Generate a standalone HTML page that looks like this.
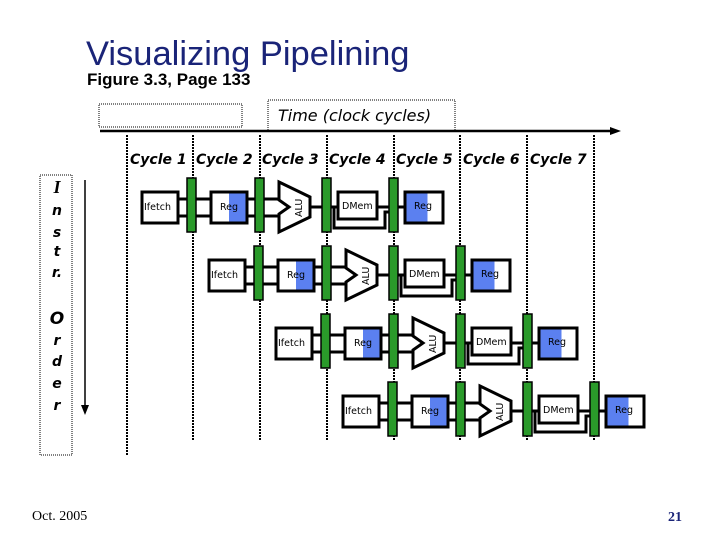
<!DOCTYPE html>
<html><head><meta charset="utf-8"><style>
body{margin:0;width:720px;height:540px;background:#fff;overflow:hidden}
svg{display:block}
.c{font-family:"DejaVu Sans",sans-serif;font-weight:bold;font-style:italic;font-size:14px}
.s{font-family:"DejaVu Sans",sans-serif;font-size:9.5px}
</style></head><body>
<svg width="720" height="540" xmlns="http://www.w3.org/2000/svg">
<text x="86" y="65" font-family="Liberation Sans,sans-serif" font-size="34.5" fill="#1a2478">Visualizing Pipelining</text>
<text x="87" y="85" font-family="Liberation Sans,sans-serif" font-weight="bold" font-size="17" fill="#000">Figure 3.3, Page 133</text>
<rect x="99" y="104" width="143" height="23" fill="none" stroke="#000" stroke-dasharray="1,1"/>
<rect x="268" y="100" width="187" height="31" fill="none" stroke="#000" stroke-dasharray="1,1"/>
<text x="278" y="121" font-family="DejaVu Sans,sans-serif" font-style="italic" font-size="16">Time (clock cycles)</text>
<line x1="100" y1="131" x2="612" y2="131" stroke="#000" stroke-width="2.5"/>
<polygon points="621,131 610,127 610,135" fill="#000"/>
<g stroke="#000" stroke-width="2" stroke-dasharray="2,1">
<line x1="127" y1="135" x2="127" y2="455"/>
<line x1="193" y1="135" x2="193" y2="440"/>
<line x1="260" y1="135" x2="260" y2="440"/>
<line x1="327" y1="135" x2="327" y2="440"/>
<line x1="394" y1="135" x2="394" y2="440"/>
<line x1="460" y1="135" x2="460" y2="440"/>
<line x1="527" y1="135" x2="527" y2="440"/>
<line x1="594" y1="135" x2="594" y2="440"/>
</g>
<g class="c">
<rect x="129" y="148" width="62" height="20" fill="#fff"/><text x="130" y="164">Cycle 1</text>
<rect x="196" y="148" width="62" height="20" fill="#fff"/><text x="196" y="164">Cycle 2</text>
<rect x="262" y="148" width="62" height="20" fill="#fff"/><text x="262" y="164">Cycle 3</text>
<rect x="329" y="148" width="62" height="20" fill="#fff"/><text x="329" y="164">Cycle 4</text>
<rect x="396" y="148" width="62" height="20" fill="#fff"/><text x="396" y="164">Cycle 5</text>
<rect x="462" y="148" width="62" height="20" fill="#fff"/><text x="463" y="164">Cycle 6</text>
<rect x="529" y="148" width="62" height="20" fill="#fff"/><text x="530" y="164">Cycle 7</text>
</g>
<rect x="40" y="175" width="32" height="280" fill="none" stroke="#000" stroke-dasharray="1,1"/>
<g class="c" text-anchor="middle">
<text x="57" y="193" font-family="Liberation Serif,serif" font-size="18">I</text>
<text x="57" y="215">n</text><text x="57" y="237">s</text><text x="57" y="256">t</text><text x="57" y="277">r.</text>
<text x="57" y="324" font-size="17">O</text>
<text x="57" y="345">r</text><text x="57" y="366">d</text><text x="57" y="388">e</text><text x="57" y="410">r</text>
</g>
<line x1="85" y1="180" x2="85" y2="406" stroke="#000" stroke-width="1.5"/>
<polygon points="85,415 81,405 89,405" fill="#000"/>
<defs>
<g id="row">
<g stroke="#000" stroke-width="3" fill="none">
<line x1="178" y1="199" x2="211" y2="199"/><line x1="178" y1="216" x2="211" y2="216"/>
<line x1="247" y1="199" x2="280" y2="199"/><line x1="247" y1="216" x2="280" y2="216"/>
<line x1="310" y1="207" x2="338" y2="207"/>
<line x1="377" y1="207" x2="405" y2="207"/>
<polyline points="334,207 334,228 385,228 385,212 390,212"/>
</g>
<rect x="142" y="192" width="36" height="31" fill="#fff" stroke="#000" stroke-width="3"/>
<text class="s" x="144" y="210">Ifetch</text>
<rect x="211" y="192" width="36" height="31" fill="#fff" stroke="#000" stroke-width="3"/>
<rect x="229" y="193.5" width="16.5" height="28" fill="#5b80f0"/>
<text class="s" x="220" y="210">Reg</text>
<polygon points="279,182 310,197 310,217 279,232 279,214 289,207 279,200" fill="#fff" stroke="#000" stroke-width="3"/>
<text class="s" x="0" y="0" transform="translate(302,217) rotate(-90)">ALU</text>
<rect x="338" y="192" width="39" height="27" fill="#fff" stroke="#000" stroke-width="3"/>
<text class="s" x="342" y="209">DMem</text>
<rect x="405" y="192" width="38" height="31" fill="#fff" stroke="#000" stroke-width="3"/>
<rect x="406.5" y="193.5" width="21" height="28" fill="#5b80f0"/>
<text class="s" x="414" y="209">Reg</text>
<g fill="#2a9a2a" stroke="#000" stroke-width="1.5">
<rect x="187" y="178" width="9" height="54"/>
<rect x="255" y="178" width="9" height="54"/>
<rect x="322" y="178" width="9" height="54"/>
<rect x="389" y="178" width="9" height="54"/>
</g>
</g>
</defs>
<use href="#row"/>
<use href="#row" transform="translate(67,68)"/>
<use href="#row" transform="translate(134,136)"/>
<use href="#row" transform="translate(201,204)"/>
<text x="32" y="520" font-family="Liberation Serif,serif" font-size="14">Oct. 2005</text>
<text x="668" y="521" font-family="Liberation Serif,serif" font-weight="bold" font-size="14" fill="#1a2478">21</text>
</svg>
</body></html>
